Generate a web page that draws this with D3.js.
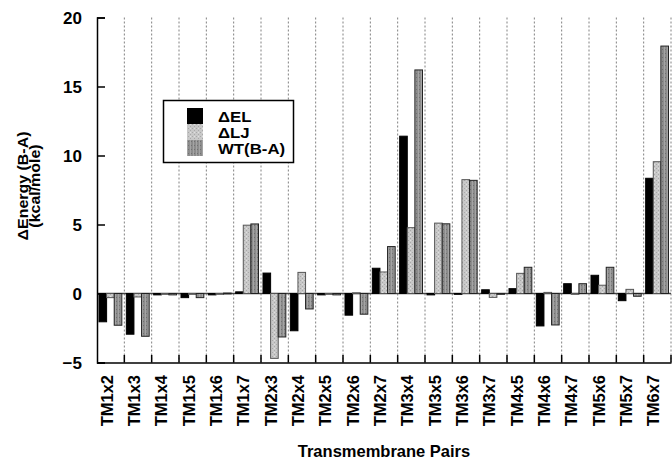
<!DOCTYPE html>
<html><head><meta charset="utf-8">
<script src="https://cdn.jsdelivr.net/npm/d3@7"></script>
<style>body{margin:0;background:#fff}svg{display:block}text{font-family:"Liberation Sans",Arial,sans-serif;font-weight:bold;fill:#000}</style>
</head><body>
<script>
const categories = ["TM1x2","TM1x3","TM1x4","TM1x5","TM1x6","TM1x7","TM2x3","TM2x4","TM2x5","TM2x6","TM2x7","TM3x4","TM3x5","TM3x6","TM3x7","TM4x5","TM4x6","TM4x7","TM5x6","TM5x7","TM6x7"];
const seriesNames = ["ΔEL","ΔLJ","WT(B-A)"];
const elValues = [-2.05,-2.95,-0.1,-0.3,-0.1,0.12,1.48,-2.7,-0.1,-1.57,1.83,11.4,-0.1,-0.05,0.27,0.35,-2.35,0.71,1.32,-0.52,8.35];
const ljValues = [-0.3,-0.25,0,-0.02,0,4.95,-4.7,1.53,0,0.05,1.56,4.77,5.1,8.25,-0.28,1.46,0.08,0,0.6,0.3,9.55];
const wtValues = [-2.3,-3.1,-0.1,-0.3,0.03,5.04,-3.15,-1.12,-0.1,-1.5,3.4,16.2,5.05,8.2,-0.05,1.9,-2.28,0.71,1.9,-0.2,17.93];
const yTicks = [-5,0,5,10,15,20];

const W=672,H=459;
const svg=d3.select("body").append("svg").attr("width",W).attr("height",H);
const defs=svg.append("defs");
// stipple pattern for LJ
const p1=defs.append("pattern").attr("id","pLJ").attr("width",4).attr("height",4).attr("patternUnits","userSpaceOnUse");
p1.append("rect").attr("width",4).attr("height",4).attr("fill","#c8c8c8");
p1.append("rect").attr("x",0).attr("y",0).attr("width",1).attr("height",1).attr("fill","#a8a8a8");
p1.append("rect").attr("x",2).attr("y",2).attr("width",1).attr("height",1).attr("fill","#a8a8a8");
p1.append("rect").attr("x",2).attr("y",0).attr("width",1).attr("height",1).attr("fill","#e0e0e0");
// striped pattern for WT
const p2=defs.append("pattern").attr("id","pWT").attr("width",3).attr("height",4).attr("patternUnits","userSpaceOnUse");
p2.append("rect").attr("width",3).attr("height",4).attr("fill","#8c8c8c");
p2.append("rect").attr("x",1).attr("width",1).attr("height",4).attr("fill","#a4a4a4");
p2.append("rect").attr("x",2).attr("y",1).attr("width",1).attr("height",1).attr("fill","#707070");

const fills=["#000","url(#pLJ)","url(#pWT)"];
const strokes=["#000","#555","#222"];

const x0=d3.scaleBand().domain(categories).range([97,671]).padding(0);
const x1=d3.scaleBand().domain(seriesNames).range([2,x0.bandwidth()-2.5]).padding(0);
const y=d3.scaleLinear().domain([-5,20]).range([362.5,17.5]);

// dotted grid lines at band boundaries
const bounds=categories.map((c,i)=>i).slice(1).concat([categories.length]);
svg.append("g").selectAll("line").data(bounds).join("line")
  .attr("x1",i=>97+i*x0.step()).attr("x2",i=>97+i*x0.step())
  .attr("y1",y(20)).attr("y2",y(-5))
  .attr("stroke","#808080").attr("stroke-width",1).attr("stroke-dasharray","2,2");

// zero line
svg.append("line").attr("x1",97).attr("x2",671).attr("y1",y(0)).attr("y2",y(0))
  .attr("stroke","#444").attr("stroke-width",1.5);

// bars
const seriesVals=[elValues,ljValues,wtValues];
const g=svg.append("g");
categories.forEach((c,i)=>{
  seriesNames.forEach((s,k)=>{
    const v=seriesVals[k][i];
    const yy=Math.min(y(v),y(0)), hh=Math.max(Math.abs(y(v)-y(0)),0.8);
    g.append("rect").attr("x",x0(c)+x1(s)).attr("y",yy).attr("width",x1.bandwidth()).attr("height",hh)
      .attr("fill",fills[k]).attr("stroke",strokes[k]).attr("stroke-width",1);
  });
});

// y axis
const yAxis=d3.axisLeft(y).tickValues(yTicks).tickSize(-8).tickPadding(15).tickFormat(d3.format("d"));
const ya=svg.append("g").attr("transform","translate(97,0)").call(yAxis);
ya.select(".domain").attr("stroke","#000").attr("stroke-width",1.5);
ya.selectAll(".tick line").attr("stroke","#000").attr("stroke-width",1.5);
ya.selectAll(".tick text").attr("font-size",17).attr("font-family","Liberation Sans, Arial, sans-serif").attr("font-weight","bold").attr("dy","0.36em");

// x axis
const xAxis=d3.axisBottom(x0).tickSize(0).tickPadding(0);
const xa=svg.append("g").attr("transform","translate(0,362.5)").call(xAxis);
xa.select(".domain").attr("stroke","#000").attr("stroke-width",1.5);
xa.selectAll(".tick text").attr("font-size",16.5).attr("font-family","Liberation Sans, Arial, sans-serif").attr("font-weight","bold")
  .attr("text-anchor","end").attr("transform","rotate(-90)").attr("x",-12.5).attr("y",2).attr("dy",0);
// inward ticks at boundaries
svg.append("g").selectAll("line").data(bounds).join("line")
  .attr("x1",i=>97+i*x0.step()).attr("x2",i=>97+i*x0.step())
  .attr("y1",362.5).attr("y2",355).attr("stroke","#000").attr("stroke-width",1.5);

// axis titles
svg.append("text").attr("transform","translate(28,186) rotate(-90) scale(1.14,1)").attr("text-anchor","middle").attr("font-size",14).text("ΔEnergy (B-A)");
svg.append("text").attr("transform","translate(40,186) rotate(-90) scale(1.14,1)").attr("text-anchor","middle").attr("font-size",14).text("(kcal/mole)");
svg.append("text").attr("x",384).attr("y",457).attr("text-anchor","middle").attr("font-size",16.5).text("Transmembrane Pairs");

// legend
const lg=svg.append("g");
lg.append("rect").attr("x",163.5).attr("y",100.5).attr("width",130).attr("height",62).attr("fill","#fff").attr("stroke","#000").attr("stroke-width",1.5);
seriesNames.forEach((s,k)=>{
  lg.append("rect").attr("x",187).attr("y",108+k*16).attr("width",16).attr("height",16).attr("fill",fills[k]);
  lg.append("text").attr("transform",`translate(218,${121.5+k*16}) scale(1.12,1)`).attr("font-size",15).text(s);
});
</script>
</body></html>
